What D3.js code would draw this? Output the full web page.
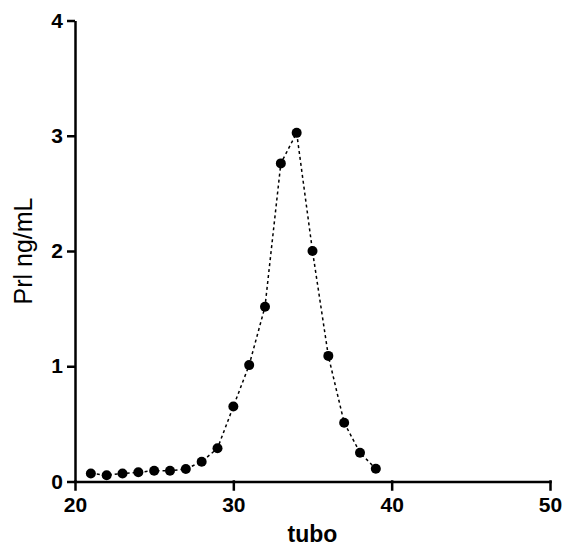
<!DOCTYPE html>
<html>
<head>
<meta charset="utf-8">
<script src="https://cdn.jsdelivr.net/npm/d3@7"></script>
<style>
  html, body { margin: 0; padding: 0; background: #fff; }
  svg { display: block; }
  .axis path, .axis line { stroke: #000; stroke-width: 2.5; }
  .axis text { font-family: "Liberation Sans", Arial, Helvetica, sans-serif; font-weight: bold; font-size: 21px; fill: #000; }
</style>
</head>
<body>
<svg id="chart" width="565" height="547"></svg>
<script>
const tubo = [21, 22, 23, 24, 25, 26, 27, 28, 29, 30, 31, 32, 33, 34, 35, 36, 37, 38, 39];
const prl  = [0.07, 0.055, 0.07, 0.08, 0.094, 0.094, 0.108, 0.172, 0.288, 0.65, 1.01, 1.517, 2.76, 3.025, 2.0, 1.09, 0.51, 0.25, 0.11];
const xTicks = [20, 30, 40, 50];
const yTicks = [0, 1, 2, 3, 4];
const xTitle = "tubo";
const yTitle = "Prl ng/mL";

const svg = d3.select("#chart");
const x = d3.scaleLinear().domain([20, 50]).range([75, 550]);
const y = d3.scaleLinear().domain([0, 4]).range([481.5, 20.5]);

const gx = svg.append("g").attr("class", "axis")
  .attr("transform", `translate(0,${y(0)})`)
  .call(d3.axisBottom(x).tickValues(xTicks).tickFormat(d3.format("d")).tickSize(8).tickSizeOuter(0).tickPadding(8));
const gy = svg.append("g").attr("class", "axis")
  .attr("transform", `translate(${x(20)},0)`)
  .call(d3.axisLeft(y).tickValues(yTicks).tickFormat(d3.format("d")).tickSize(8).tickSizeOuter(0).tickPadding(4));
gx.selectAll("path, line").attr("stroke-linecap", "square");

const line = d3.line().x((d, i) => x(tubo[i])).y(d => y(d));
svg.append("path").datum(prl)
  .attr("d", line)
  .attr("fill", "none")
  .attr("stroke", "#000")
  .attr("stroke-width", 1.5)
  .attr("stroke-dasharray", "3,3");

svg.append("g").selectAll("circle").data(prl).join("circle")
  .attr("cx", (d, i) => x(tubo[i]))
  .attr("cy", d => y(d))
  .attr("r", 5)
  .attr("fill", "#000");

svg.append("text")
  .attr("x", (x(20) + x(50)) / 2)
  .attr("y", 542)
  .attr("text-anchor", "middle")
  .style("font-family", "'Liberation Sans', Arial, Helvetica, sans-serif")
  .style("font-weight", "bold")
  .style("font-size", "23px")
  .text(xTitle);

svg.append("text")
  .attr("transform", `translate(32,${(y(0) + y(4)) / 2}) rotate(-90)`)
  .attr("text-anchor", "middle")
  .style("font-family", "'Liberation Sans', Arial, Helvetica, sans-serif")
  .style("font-size", "25px")
  .text(yTitle);
</script>
</body>
</html>
